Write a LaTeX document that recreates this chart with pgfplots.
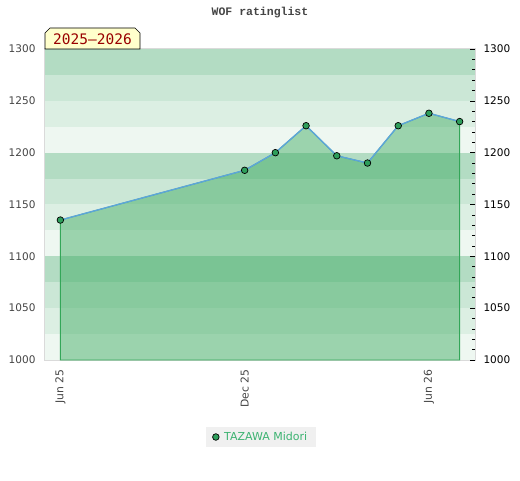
\documentclass[border=0pt]{standalone}
\usepackage{pgfplots}
\pgfplotsset{compat=1.18}
\usepackage{fontspec}
\setmainfont{DejaVu Sans}
\newfontfamily\monofont{DejaVu Sans Mono}
\newfontfamily\titlefont{Liberation Mono}
\definecolor{bandA}{HTML}{B3DCC3}
\definecolor{bandB}{HTML}{CBE7D6}
\definecolor{bandC}{HTML}{DCEFE3}
\definecolor{bandD}{HTML}{EEF7F1}
\definecolor{areac}{HTML}{33A658}
\definecolor{linec}{HTML}{5DA5DA}
\definecolor{markc}{HTML}{2E9E5B}
\definecolor{legtext}{HTML}{3CB371}
\definecolor{legbg}{HTML}{F0F0F0}
\definecolor{framec}{HTML}{DADADA}
\definecolor{labc}{HTML}{444444}
\definecolor{boxbg}{HTML}{FFFFCC}
\definecolor{boxtext}{HTML}{990000}
\pgfplotstableread{
x y
0 1135
6 1183
7 1200
8 1226
9 1197
10 1190
11 1226
12 1238
13 1230
}\ratings
\begin{document}
\begin{tikzpicture}[x=1pt,y=1pt]
\path[use as bounding box] (0,0) rectangle (520,480);
\begin{axis}[
  at={(45pt,120pt)}, anchor=south west,
  width=430pt, height=311pt, scale only axis,
  xmin=-0.5, xmax=13.5, ymin=1000, ymax=1300,
  xtick={0,6,12}, xticklabels={Jun 25,Dec 25,Jun 26},
  ytick={1000,1050,...,1300},
  /pgf/number format/assume math mode=true,
  /pgf/number format/1000 sep={},
  tick style={draw=none},
  xticklabel shift=6pt,
  xticklabel style={rotate=90, anchor=east, font=\fontsize{10.8}{12}\selectfont, text=labc},
  yticklabel style={font=\fontsize{10.5}{12}\selectfont, text=labc, xshift=-6pt},
  axis line style={draw=framec, line width=1.5pt},
  legend style={at={(0.502,-0.2476)}, anchor=center, fill=legbg, draw=none,
    font=\fontsize{11}{12}\selectfont, text=legtext, inner xsep=7pt, inner ysep=3.5pt},
  legend cell align=left,
]
% background bands
\addplot[forget plot, draw=none, fill=bandA] coordinates {(-0.5,1275) (13.5,1275) (13.5,1300) (-0.5,1300)} -- cycle;
\addplot[forget plot, draw=none, fill=bandB] coordinates {(-0.5,1250) (13.5,1250) (13.5,1275) (-0.5,1275)} -- cycle;
\addplot[forget plot, draw=none, fill=bandC] coordinates {(-0.5,1225) (13.5,1225) (13.5,1250) (-0.5,1250)} -- cycle;
\addplot[forget plot, draw=none, fill=bandD] coordinates {(-0.5,1200) (13.5,1200) (13.5,1225) (-0.5,1225)} -- cycle;
\addplot[forget plot, draw=none, fill=bandA] coordinates {(-0.5,1175) (13.5,1175) (13.5,1200) (-0.5,1200)} -- cycle;
\addplot[forget plot, draw=none, fill=bandB] coordinates {(-0.5,1150) (13.5,1150) (13.5,1175) (-0.5,1175)} -- cycle;
\addplot[forget plot, draw=none, fill=bandC] coordinates {(-0.5,1125) (13.5,1125) (13.5,1150) (-0.5,1150)} -- cycle;
\addplot[forget plot, draw=none, fill=bandD] coordinates {(-0.5,1100) (13.5,1100) (13.5,1125) (-0.5,1125)} -- cycle;
\addplot[forget plot, draw=none, fill=bandA] coordinates {(-0.5,1075) (13.5,1075) (13.5,1100) (-0.5,1100)} -- cycle;
\addplot[forget plot, draw=none, fill=bandB] coordinates {(-0.5,1050) (13.5,1050) (13.5,1075) (-0.5,1075)} -- cycle;
\addplot[forget plot, draw=none, fill=bandC] coordinates {(-0.5,1025) (13.5,1025) (13.5,1050) (-0.5,1050)} -- cycle;
\addplot[forget plot, draw=none, fill=bandD] coordinates {(-0.5,1000) (13.5,1000) (13.5,1025) (-0.5,1025)} -- cycle;
% area
\addplot[forget plot, draw=areac, line width=0.9pt, fill=areac, fill opacity=0.44, draw opacity=1]
  coordinates {(0,1000) (0,1135) (6,1183) (7,1200) (8,1226) (9,1197) (10,1190) (11,1226) (12,1238) (13,1230) (13,1000)} -- cycle;
\addplot[forget plot, linec, line width=1.4pt, mark=none] table[x=x,y=y] {\ratings};
\addplot[only marks, mark=*, mark size=3.3pt, mark options={fill=markc, draw=black, line width=0.7pt}] table[x=x,y=y] {\ratings};
\addlegendentry{\hspace{3pt}TAZAWA Midori}
\end{axis}
\begin{axis}[
  at={(45pt,120pt)}, anchor=south west,
  width=430pt, height=311pt, scale only axis,
  xmin=-0.5, xmax=13.5, ymin=1000, ymax=1300,
  axis x line=none, axis y line*=right,
  y axis line style={draw=none},
  ytick={1000,1050,...,1300},
  minor ytick={1010,1020,...,1290},
  /pgf/number format/assume math mode=true,
  /pgf/number format/1000 sep={},
  tick align=inside,
  major tick length=5pt, minor tick length=3pt,
  tick style={draw=black, line width=0.6pt},
  yticklabel style={font=\fontsize{10.5}{12}\selectfont, text=black, xshift=5pt},
]
\addplot[draw=none, forget plot] coordinates {(0,1000)};
\end{axis}
\node[font=\titlefont\bfseries\fontsize{11.5}{12}\selectfont, text=labc] at (260,467) {WOF ratinglist};
\draw[fill=boxbg, draw=black, line width=0.6pt] (45,431) -- (45,447) -- (50,452) -- (135,452) -- (140,447) -- (140,431) -- cycle;
\node[font=\monofont\fontsize{14.5}{16}\selectfont, text=boxtext] at (92.5,440.5) {2025–2026};
\end{tikzpicture}
\end{document}
